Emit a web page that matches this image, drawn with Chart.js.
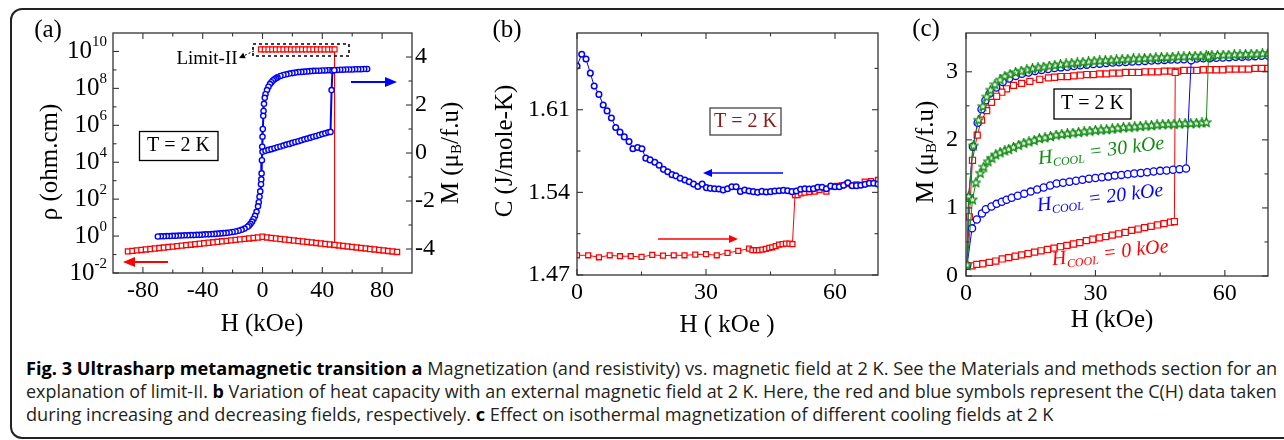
<!DOCTYPE html>
<html>
<head>
<meta charset="utf-8">
<script src="https://cdn.jsdelivr.net/npm/chart.js@4.4.0/dist/chart.umd.min.js"></script>
<style>
html, body { margin: 0; padding: 0; background: #fff; }
body { width: 1284px; height: 440px; position: relative; overflow: hidden; }
canvas { position: absolute; top: 0; }
#frame { position: absolute; left: 10px; top: 8px; width: 1300px; height: 431px; box-sizing: border-box;
  border: 2px solid #222; border-radius: 12px; }
#caption { position: absolute; left: 26px; top: 0; font-family: 'Open Sans', sans-serif; font-size: 18.5px; color: #231f20; }
#caption .ln { position: absolute; left: 0; white-space: nowrap; transform-origin: 0 0; line-height: 23px; }
#caption .ln span { display: inline-block; }
#caption b { color: #000; }
</style>
</head>
<body>
<div id="frame"></div>
<canvas id="ca" width="470" height="340" style="left:0"></canvas>
<canvas id="cb" width="460" height="340" style="left:430px"></canvas>
<canvas id="cc" width="394" height="340" style="left:890px"></canvas>
<div id="caption">
  <div class="ln" style="top:356px"><span><b>Fig. 3 Ultrasharp metamagnetic transition a</b> Magnetization (and resistivity) vs. magnetic field at 2 K. See the Materials and methods section for an</span></div>
  <div class="ln" style="top:379px"><span>explanation of limit-II. <b>b</b> Variation of heat capacity with an external magnetic field at 2 K. Here, the red and blue symbols represent the C(H) data taken</span></div>
  <div class="ln" style="top:402px"><span>during increasing and decreasing fields, respectively. <b>c</b> Effect on isothermal magnetization of different cooling fields at 2 K</span></div>
</div>
<script>
// ---------- panel (a): M and rho vs H ----------
const aXTicks = [-80, -40, 0, 40, 80];
const aXMinor = [-60, -20, 20, 60];
const aRhoExp = [-2, 0, 2, 4, 6, 8, 10];
const aRhoMinor = [1e-1, 1e1, 1e3, 1e5, 1e7, 1e9];
const aMTicks = [-4, -2, 0, 2, 4];
const aMMinor = [-3, -1, 1, 3];

// virgin M curve (first field increase), mu_B/f.u
const aMUp = [[0,0.05],[2,0.09],[4,0.13],[6,0.16],[8,0.2],[10,0.24],[12,0.27],[14,0.31],[16,0.35],[18,0.38],
  [20,0.42],[22,0.46],[24,0.49],[26,0.53],[28,0.57],[30,0.6],[32,0.64],[34,0.68],[36,0.71],[38,0.75],[40,0.79],
  [42,0.82],[44,0.86],[45.5,0.88],[46.2,2.62],[46.8,3.43],[48,3.45]];
// M on the way down from +70 to -70 kOe
const aMDown = [[70,3.5],[68,3.5],[66,3.49],[64,3.49],[62,3.49],[60,3.48],[58,3.48],[56,3.48],[54,3.47],[52,3.47],
  [50,3.46],[48,3.46],[46,3.45],[44,3.45],[42,3.44],[40,3.44],[38,3.43],[36,3.43],[34,3.42],[32,3.41],[30,3.4],
  [28,3.39],[26,3.38],[24,3.37],[22,3.35],[20,3.33],[18,3.31],[16,3.28],[14,3.25],[12,3.21],[10,3.15],[9,3.11],
  [8,3.07],[7,3.02],[6,2.95],[5,2.87],[4,2.76],[3,2.62],[2,2.45],[1.5,2.3],[1,2.05],[0.7,1.75],[0.5,1.55],[0.2,1.0],
  [0,0.68],[-0.2,0.26],[-0.4,-0.3],[-0.6,-0.85],[-0.8,-1.1],[-1,-1.3],[-1.5,-1.6],[-2,-1.82],[-2.5,-2.05],[-3,-2.22],
  [-4,-2.45],[-5,-2.62],[-6,-2.75],[-7,-2.86],[-8,-2.95],[-9,-3.02],[-10,-3.07],[-12,-3.15],[-14,-3.2],[-16,-3.24],
  [-18,-3.27],[-20,-3.29],[-22,-3.31],[-24,-3.33],[-26,-3.34],[-28,-3.35],[-30,-3.36],[-32,-3.37],[-34,-3.38],
  [-36,-3.39],[-38,-3.39],[-40,-3.4],[-42,-3.41],[-44,-3.41],[-46,-3.42],[-48,-3.42],[-50,-3.43],[-52,-3.43],
  [-54,-3.44],[-56,-3.44],[-58,-3.45],[-60,-3.45],[-62,-3.46],[-64,-3.46],[-66,-3.47],[-68,-3.47],[-70,-3.48]];
// resistivity: above limit-II until the transition, ohm.cm
const aRhoLimit = [[-1,1.3e10],[1.5,1.3e10],[4,1.3e10],[6.5,1.3e10],[9,1.3e10],[11.5,1.3e10],[14,1.3e10],
  [16.5,1.3e10],[19,1.3e10],[21.5,1.3e10],[24,1.3e10],[26.5,1.3e10],[29,1.3e10],[31.5,1.3e10],[34,1.3e10],
  [36.5,1.3e10],[39,1.3e10],[41.5,1.3e10],[44,1.3e10],[46.5,1.3e10],[48.2,1.3e10],[48.2,0.33]];
// resistivity in the metallic state
const aRhoLow = [[-90,0.148],[-87,0.157],[-84,0.167],[-81,0.177],[-78,0.188],[-75,0.2],[-72,0.212],[-69,0.225],
  [-66,0.239],[-63,0.254],[-60,0.269],[-57,0.286],[-54,0.303],[-51,0.322],[-48,0.342],[-45,0.363],[-42,0.385],
  [-39,0.409],[-36,0.434],[-33,0.461],[-30,0.49],[-27,0.52],[-24,0.552],[-21,0.586],[-18,0.622],[-15,0.661],
  [-12,0.702],[-9,0.745],[-6,0.791],[-3,0.839],[0,0.92],[3,0.84],[6,0.787],[9,0.74],[12,0.695],[15,0.653],
  [18,0.614],[21,0.577],[24,0.542],[27,0.509],[30,0.479],[33,0.45],[36,0.423],[39,0.397],[42,0.373],[45,0.351],
  [48,0.33],[51,0.31],[54,0.291],[57,0.274],[60,0.257],[63,0.242],[66,0.227],[69,0.213],[72,0.2],[75,0.188],
  [78,0.177],[81,0.166],[84,0.156],[87,0.147],[90,0.138]];

// ---------- panel (b): C vs H ----------
const bXTicks = [0, 30, 60];
const bXMinor = [15, 45];
const bYTicks = [1.47, 1.54, 1.61];
const bYMinor = [1.505, 1.575, 1.645];
const bUp = [[0,1.4867],[2.6,1.4867],[5.1,1.485],[7.6,1.4867],[10,1.4859],[12.5,1.4859],[15,1.4853],[17.5,1.487],
  [20,1.4864],[22.5,1.4867],[25,1.4867],[27.5,1.4873],[30,1.4876],[32.5,1.4867],[35,1.4887],[37.5,1.4904],
  [40,1.4924],[40.8,1.491],[41.6,1.491],[42.3,1.491],[43.1,1.4915],[43.9,1.4921],[44.7,1.493],[45.4,1.4935],
  [46.2,1.4944],[47,1.4958],[47.8,1.4961],[48.6,1.4966],[49.4,1.4966],[50.1,1.4961],[50.7,1.5377],[51.3,1.5377],
  [52.1,1.5391],[52.9,1.5397],[54,1.5403],[55.3,1.5406],[56.4,1.542],[58,1.5406],[59.3,1.5448],[60.4,1.5454],
  [61.6,1.546],[62.8,1.5471],[63.9,1.5462],[65,1.5468],[66.9,1.5491],[68.4,1.5496],[70,1.5505]];
const bDown = [[0,1.647],[1.1,1.657],[2.1,1.653],[3.1,1.641],[4,1.63],[5.1,1.623],[6.1,1.614],[7,1.609],[8,1.603],
  [9,1.595],[10,1.591],[11,1.587],[12.1,1.583],[13,1.577],[14.1,1.578],[15.1,1.577],[16,1.569],[17,1.5675],
  [18.1,1.5655],[19.1,1.563],[20.1,1.5595],[21.1,1.5575],[22.1,1.555],[23,1.554],[24,1.552],[25.1,1.5505],
  [26.1,1.549],[27.1,1.547],[28.1,1.545],[29.1,1.547],[30.1,1.544],[31,1.5434],[32,1.5431],[33,1.5428],[34,1.542],
  [35,1.5431],[36,1.5448],[37,1.5448],[38,1.5408],[39,1.542],[40,1.5411],[41,1.5406],[42,1.54],[43,1.5408],
  [44,1.5403],[45,1.5406],[46,1.5411],[47,1.5414],[48,1.5417],[49,1.5414],[50,1.5406],[51,1.5411],[52,1.5426],
  [53,1.5431],[54,1.5428],[55,1.5431],[56,1.5443],[57,1.5443],[58,1.5431],[59,1.5454],[60,1.5448],[61,1.5448],
  [62,1.546],[63,1.5482],[64,1.5457],[65,1.5457],[66,1.546],[67,1.5468],[68,1.5477],[69,1.5477],[70,1.547]];

// ---------- panel (c): M vs H for three cooling fields ----------
const cXTicks = [0, 30, 60];
const cXMinor = [15, 45];
const cYTicks = [0, 1, 2, 3];
const cYMinor = [0.5, 1.5, 2.5];
const cUp0 = [[0.23,0.15],[1.4,0.15],[2.5,0.17],[3.9,0.18],[5.4,0.2],[6.9,0.22],[8.4,0.25],[9.9,0.27],[11.4,0.29],
  [12.9,0.31],[14.4,0.33],[15.9,0.35],[17.4,0.37],[18.9,0.39],[20.4,0.41],[21.9,0.43],[23.4,0.45],[24.9,0.47],
  [26.4,0.49],[27.9,0.52],[29.4,0.54],[30.9,0.56],[32.4,0.58],[33.9,0.6],[35.4,0.62],[36.9,0.64],[38.4,0.67],
  [39.9,0.69],[41.4,0.71],[42.9,0.73],[44.4,0.75],[45.9,0.77],[47.4,0.79],[48.3,0.8],[48.5,2.99]];
const cDown0 = [[70,3.05],[68.5,3.05],[67,3.05],[65.5,3.04],[64,3.04],[62.5,3.04],[61,3.04],[59.5,3.03],[58,3.03],
  [56.5,3.03],[55,3.03],[53.5,3.02],[52,3.02],[50.5,3.02],[49,3.01],[47.5,3.01],[46,3.01],[44.5,3.0],[43,3.0],
  [41.5,3.0],[40,2.99],[38.5,2.99],[37,2.99],[35.5,2.98],[34,2.98],[32.5,2.97],[31,2.97],[29.5,2.96],[28,2.96],
  [26.5,2.95],[25,2.94],[23.5,2.93],[22,2.93],[20.5,2.92],[19.1,2.91],[17.1,2.89],[14.8,2.86],[12.9,2.83],[11,2.8],
  [9.4,2.75],[8.3,2.7],[7.1,2.64],[5.9,2.55],[4.8,2.43],[3.6,2.29],[2.6,2.07],[1.5,1.7],[0.77,0.87],[0.23,0.15]];
const cUp20 = [[0.23,0.15],[1.4,0.7],[2.5,0.83],[3.7,0.92],[4.6,0.98],[5.9,1.02],[7.1,1.06],[8.3,1.09],[9.4,1.12],
  [10.6,1.15],[12,1.18],[13.5,1.21],[15,1.24],[16.5,1.27],[18,1.3],[19.5,1.33],[21,1.36],[22.5,1.37],[24,1.385],
  [25.5,1.4],[27,1.415],[28.5,1.43],[30,1.44],[31.5,1.45],[33,1.46],[34.5,1.475],[36,1.485],[37.5,1.495],
  [39,1.505],[40.5,1.515],[42,1.525],[43.5,1.535],[45,1.545],[46.5,1.55],[48,1.56],[49.5,1.57],[51,1.58],[52.2,3.17]];
const cDown20 = [[70,3.24],[68.5,3.235],[67,3.23],[65.5,3.225],[64,3.22],[62.5,3.22],[61,3.215],[59.5,3.21],
  [58,3.205],[56.5,3.2],[55,3.2],[53.5,3.195],[52,3.19],[50.5,3.185],[49,3.18],[47.5,3.18],[46,3.175],[44.5,3.17],
  [43,3.165],[41.5,3.16],[40,3.155],[38.5,3.15],[37,3.145],[35.5,3.14],[34,3.135],[32.5,3.13],[31,3.12],
  [29.5,3.115],[28,3.105],[26.5,3.095],[25,3.085],[23.5,3.075],[22,3.065],[20.5,3.055],[19,3.04],[17.5,3.025],
  [16,3.01],[14.5,2.99],[13,2.97],[11.5,2.94],[10,2.9],[8.5,2.85],[7,2.77],[5.5,2.68],[4.5,2.58],[3.6,2.45],
  [2.7,2.25],[1.6,1.9],[0.6,1.15],[0.23,0.15]];
const cUp30 = [[0.23,0.16],[1.5,1.12],[2.3,1.37],[3.3,1.51],[4.1,1.6],[5.1,1.68],[6,1.73],[6.9,1.78],[7.9,1.81],
  [9,1.84],[9.9,1.86],[11,1.89],[12.2,1.92],[13.4,1.95],[14.6,1.97],[15.8,1.99],[17,2.02],[18.3,2.03],[19.6,2.05],
  [20.9,2.07],[22.2,2.08],[23.5,2.09],[24.8,2.1],[26.1,2.11],[27.4,2.12],[28.7,2.13],[30,2.14],[31.3,2.145],
  [32.6,2.15],[33.9,2.16],[35.2,2.17],[36.5,2.18],[37.8,2.185],[39.1,2.19],[40.4,2.2],[41.7,2.205],[43,2.21],
  [44.3,2.22],[45.6,2.225],[46.9,2.23],[48.2,2.23],[49.5,2.235],[50.8,2.24],[52.1,2.24],[53.4,2.245],[54.7,2.25],
  [55.7,2.255],[56.2,3.22]];
const cDown30 = [[70,3.27],[68.7,3.265],[67.4,3.26],[66.1,3.26],[64.8,3.255],[63.5,3.25],[62.2,3.25],[60.9,3.245],
  [59.6,3.245],[58.3,3.24],[57,3.24],[55.7,3.235],[54.4,3.23],[53.1,3.23],[51.8,3.225],[50.5,3.22],[49.2,3.22],
  [47.9,3.215],[46.6,3.21],[45.3,3.21],[44,3.205],[42.7,3.2],[41.4,3.195],[40.1,3.19],[38.8,3.19],[37.5,3.185],
  [36.2,3.18],[34.9,3.175],[33.6,3.17],[32.3,3.165],[31,3.16],[29.7,3.155],[28.4,3.145],[27.1,3.14],[25.8,3.13],
  [24.5,3.125],[23.2,3.115],[21.9,3.105],[20.6,3.095],[19.3,3.085],[18,3.07],[16.7,3.06],[15.4,3.045],[14.1,3.03],
  [12.8,3.01],[11.5,2.99],[10.2,2.96],[9,2.93],[7.9,2.88],[6.7,2.81],[5.7,2.73],[4.8,2.63],[3.9,2.49],[2.9,2.29],
  [1.7,1.91],[0.6,1.165],[0.23,0.16]];

const SERIF = "'Liberation Serif', 'Times New Roman', serif";
const BLUE = '#0000ff', RED = '#ff0000', GREEN = '#128a12';
Chart.defaults.font.family = SERIF;
Chart.defaults.color = '#000';

const xy = arr => arr.map(p => ({x: p[0], y: p[1]}));
const R = (t, size, o) => Object.assign({t: t, size: size}, o || {});

function fontStr(r) { return (r.italic ? 'italic ' : '') + r.size + 'px ' + SERIF; }

function drawRuns(ctx, it) {
  ctx.save();
  ctx.translate(it.x, it.y);
  if (it.rot) ctx.rotate(it.rot * Math.PI / 180);
  ctx.fillStyle = it.color || '#000';
  ctx.textBaseline = 'middle';
  ctx.textAlign = 'left';
  let total = 0;
  it.runs.forEach(r => { ctx.font = fontStr(r); total += ctx.measureText(r.t).width; });
  let cx = it.align === 'left' ? 0 : it.align === 'right' ? -total : -total / 2;
  it.runs.forEach(r => {
    ctx.font = fontStr(r);
    ctx.fillText(r.t, cx, r.dy || 0);
    cx += ctx.measureText(r.t).width;
  });
  ctx.restore();
}

function arrow(ctx, a) {
  const ang = Math.atan2(a.y2 - a.y1, a.x2 - a.x1);
  const bx = a.x2 - a.head * Math.cos(ang), by = a.y2 - a.head * Math.sin(ang);
  ctx.save();
  ctx.strokeStyle = a.color; ctx.fillStyle = a.color; ctx.lineWidth = a.w;
  if (a.dash) ctx.setLineDash(a.dash);
  ctx.beginPath(); ctx.moveTo(a.x1, a.y1); ctx.lineTo(bx, by); ctx.stroke();
  ctx.setLineDash([]);
  ctx.beginPath();
  ctx.moveTo(a.x2, a.y2);
  ctx.lineTo(bx + a.hw * Math.sin(ang), by - a.hw * Math.cos(ang));
  ctx.lineTo(bx - a.hw * Math.sin(ang), by + a.hw * Math.cos(ang));
  ctx.closePath(); ctx.fill();
  ctx.restore();
}

// frame, inward ticks, labels and annotations (page coordinates, shifted by ox)
function makeDecor(cfg) {
  return {
    id: 'decor',
    afterDraw(chart) {
      const ctx = chart.ctx, a = chart.chartArea;
      ctx.save();
      ctx.strokeStyle = '#333';
      ctx.lineWidth = 1.3;
      ctx.strokeRect(a.left, a.top, a.right - a.left, a.bottom - a.top);
      ctx.lineWidth = 1.1;
      cfg.ticks.forEach(s => {
        const sc = chart.scales[s.scale];
        [[s.major, 6], [s.minor || [], 3.5]].forEach(([vals, len]) => {
          vals.forEach(v => {
            const p = sc.getPixelForValue(v);
            ctx.beginPath();
            if (s.edge === 'bottom') { ctx.moveTo(p, a.bottom); ctx.lineTo(p, a.bottom - len); }
            if (s.edge === 'top') { ctx.moveTo(p, a.top); ctx.lineTo(p, a.top + len); }
            if (s.edge === 'left') { ctx.moveTo(a.left, p); ctx.lineTo(a.left + len, p); }
            if (s.edge === 'right') { ctx.moveTo(a.right, p); ctx.lineTo(a.right - len, p); }
            ctx.stroke();
          });
        });
      });
      if (cfg.log) {
        const sc = chart.scales[cfg.log.scale];
        cfg.log.exps.forEach(n => {
          drawRuns(ctx, {x: cfg.log.x - cfg.ox, y: sc.getPixelForValue(Math.pow(10, n)), align: 'right',
            runs: [R('10', 25), R(String(n), 15, {dy: -9})]});
        });
      }
      ctx.translate(-cfg.ox, 0);
      (cfg.boxes || []).forEach(b => {
        ctx.fillStyle = '#fff';
        ctx.fillRect(b.x, b.y, b.w, b.h);
        ctx.strokeStyle = b.color || '#000';
        ctx.lineWidth = 1.3;
        ctx.strokeRect(b.x, b.y, b.w, b.h);
      });
      (cfg.dashed || []).forEach(b => {
        ctx.save();
        ctx.setLineDash([3, 3]);
        ctx.strokeStyle = '#000';
        ctx.lineWidth = 1.6;
        ctx.strokeRect(b.x, b.y, b.w, b.h);
        ctx.restore();
      });
      (cfg.arrows || []).forEach(ar => arrow(ctx, ar));
      (cfg.texts || []).forEach(t => drawRuns(ctx, t));
      ctx.restore();
    }
  };
}

function linScale(pos, min, max, ticks, size, pad) {
  return {
    type: 'linear', position: pos, min: min, max: max,
    afterBuildTicks: s => { s.ticks = ticks.map(v => ({value: v})); },
    afterFit: s => { if (pos === 'bottom') s.height = size; else s.width = size; },
    ticks: {font: {family: SERIF, size: 24}, color: '#000', padding: pad, autoSkip: false, maxRotation: 0,
      callback: v => String(v)},
    grid: {display: false, drawTicks: false},
    border: {display: false}
  };
}

function line(data, color, axis, style, r, lw, pw) {
  return {
    data: xy(data), yAxisID: axis, showLine: true, borderColor: color, borderWidth: lw,
    pointStyle: style, pointRadius: r, pointBorderColor: color, pointBackgroundColor: '#fff',
    pointBorderWidth: pw, tension: 0
  };
}

function starPoint(color) {
  const c = document.createElement('canvas');
  c.width = 11; c.height = 11;
  const g = c.getContext('2d');
  g.beginPath();
  for (let i = 0; i < 10; i++) {
    const rr = i % 2 === 0 ? 4.8 : 2.1;
    const an = -Math.PI / 2 + i * Math.PI / 5;
    g.lineTo(5.5 + rr * Math.cos(an), 5.5 + rr * Math.sin(an));
  }
  g.closePath();
  g.fillStyle = '#e8f4e8';
  g.fill();
  g.strokeStyle = color;
  g.lineWidth = 1.3;
  g.stroke();
  return c;
}

const baseOpts = {
  responsive: false, animation: false, events: [],
  plugins: {legend: {display: false}, tooltip: {enabled: false}}
};

// ---------- chart (a) ----------
new Chart(document.getElementById('ca'), {
  type: 'scatter',
  data: {datasets: [
    line(aMUp, BLUE, 'yM', 'circle', 2.6, 2, 1.4),
    line(aMDown, BLUE, 'yM', 'circle', 2.6, 2, 1.4),
    line(aRhoLimit, RED, 'yR', 'rect', 3.5, 1, 1.2),
    line(aRhoLow, RED, 'yR', 'rect', 3.6, 1, 1.3)
  ]},
  options: Object.assign({}, baseOpts, {
    layout: {padding: {top: 33, left: 0, right: 0, bottom: 0}},
    scales: {
      x: linScale('bottom', -100, 100, aXTicks, 67, 3),
      yR: {type: 'logarithmic', position: 'left', min: 0.01, max: 1e11,
        afterFit: s => { s.width = 113; },
        ticks: {display: false}, grid: {display: false, drawTicks: false}, border: {display: false}},
      yM: linScale('right', -5, 5, aMTicks, 58, 3)
    }
  }),
  plugins: [makeDecor({
    ox: 0,
    ticks: [
      {scale: 'x', edge: 'bottom', major: aXTicks, minor: aXMinor},
      {scale: 'x', edge: 'top', major: aXTicks, minor: aXMinor},
      {scale: 'yR', edge: 'left', major: aRhoExp.map(n => Math.pow(10, n)), minor: aRhoMinor},
      {scale: 'yM', edge: 'right', major: aMTicks, minor: aMMinor}
    ],
    log: {scale: 'yR', exps: aRhoExp, x: 107},
    boxes: [{x: 139.5, y: 131.5, w: 78.5, h: 29}],
    dashed: [{x: 253, y: 44, w: 96, h: 12}],
    arrows: [
      {x1: 254, y1: 51, x2: 239, y2: 58, color: '#000', w: 1, head: 6, hw: 3, dash: [2, 2]},
      {x1: 351, y1: 82, x2: 397, y2: 82, color: BLUE, w: 2, head: 12, hw: 5},
      {x1: 168, y1: 262, x2: 123, y2: 262, color: RED, w: 2, head: 12, hw: 5}
    ],
    texts: [
      {x: 48, y: 30, runs: [R('(a)', 25)]},
      {x: 50, y: 162, rot: -90, runs: [R('ρ (ohm.cm)', 25)]},
      {x: 262, y: 324, runs: [R('H (kOe)', 25)]},
      {x: 451, y: 153, rot: -90, runs: [R('M (μ', 25), R('B', 15, {dy: 6}), R('/f.u)', 25)]},
      {x: 178.5, y: 146, runs: [R('T = 2 K', 20)]},
      {x: 207, y: 59, runs: [R('Limit-II', 19)]}
    ]
  })]
});

// ---------- chart (b) ----------
new Chart(document.getElementById('cb'), {
  type: 'scatter',
  data: {datasets: [
    line(bDown, BLUE, 'y', 'circle', 2.8, 1, 1.5),
    line(bUp, RED, 'y', 'rect', 3.5, 1, 1.3)
  ]},
  options: Object.assign({}, baseOpts, {
    layout: {padding: {top: 33, left: 0, right: 12, bottom: 0}},
    scales: {
      x: linScale('bottom', 0, 70, bXTicks, 65, 3),
      y: linScale('left', 1.47, 1.675, bYTicks, 147, 7)
    }
  }),
  plugins: [makeDecor({
    ox: 430,
    ticks: [
      {scale: 'x', edge: 'bottom', major: bXTicks, minor: bXMinor},
      {scale: 'x', edge: 'top', major: bXTicks, minor: bXMinor},
      {scale: 'y', edge: 'left', major: bYTicks, minor: bYMinor},
      {scale: 'y', edge: 'right', major: bYTicks, minor: bYMinor}
    ],
    boxes: [{x: 710, y: 108, w: 71, h: 27, color: '#444'}],
    arrows: [
      {x1: 658, y1: 239, x2: 738, y2: 239, color: RED, w: 1.5, head: 9, hw: 4},
      {x1: 783, y1: 173, x2: 703, y2: 173, color: BLUE, w: 1.5, head: 9, hw: 4}
    ],
    texts: [
      {x: 507, y: 30, runs: [R('(b)', 25)]},
      {x: 505, y: 151, rot: -90, runs: [R('C (J/mole-K)', 25)]},
      {x: 727, y: 325, runs: [R('H ( kOe )', 25)]},
      {x: 745.5, y: 121.5, color: '#8b1a1a', runs: [R('T = 2 K', 20)]}
    ]
  })]
});

// ---------- chart (c) ----------
const star = starPoint(GREEN);
new Chart(document.getElementById('cc'), {
  type: 'scatter',
  data: {datasets: [
    line(cUp30, GREEN, 'y', star, 4.5, 1, 1),
    line(cDown30, GREEN, 'y', star, 4.5, 1, 1),
    line(cUp20, BLUE, 'y', 'circle', 3.6, 1, 1.3),
    line(cDown20, BLUE, 'y', 'circle', 3.6, 1, 1.3),
    line(cUp0, RED, 'y', 'rect', 4.3, 1, 1.2),
    line(cDown0, RED, 'y', 'rect', 4.3, 1, 1.2)
  ]},
  options: Object.assign({}, baseOpts, {
    layout: {padding: {top: 33, left: 0, right: 16, bottom: 0}},
    scales: {
      x: linScale('bottom', 0, 70, cXTicks, 64, 3),
      y: linScale('left', 0, 3.57, cYTicks, 76, 8)
    }
  }),
  plugins: [makeDecor({
    ox: 890,
    ticks: [
      {scale: 'x', edge: 'bottom', major: cXTicks, minor: cXMinor},
      {scale: 'x', edge: 'top', major: cXTicks, minor: cXMinor},
      {scale: 'y', edge: 'left', major: cYTicks, minor: cYMinor},
      {scale: 'y', edge: 'right', major: cYTicks, minor: cYMinor}
    ],
    boxes: [{x: 1054, y: 89, w: 77, h: 30}],
    texts: [
      {x: 926, y: 29, runs: [R('(c)', 25)]},
      {x: 926, y: 152, rot: -90, runs: [R('M (μ', 25), R('B', 15, {dy: 6}), R('/f.u)', 25)]},
      {x: 1112, y: 320, runs: [R('H (kOe)', 25)]},
      {x: 1092.5, y: 104, runs: [R('T = 2 K', 20)]},
      {x: 1038, y: 159, rot: -7, align: 'left', color: GREEN,
        runs: [R('H', 20, {italic: true}), R('COOL', 12, {italic: true, dy: 6}), R(' = 30 kOe', 20, {italic: true})]},
      {x: 1037, y: 206, rot: -7, align: 'left', color: BLUE,
        runs: [R('H', 20, {italic: true}), R('COOL', 12, {italic: true, dy: 6}), R(' = 20 kOe', 20, {italic: true})]},
      {x: 1052, y: 260, rot: -6.5, align: 'left', color: RED,
        runs: [R('H', 20, {italic: true}), R('COOL', 12, {italic: true, dy: 6}), R(' = 0 kOe', 20, {italic: true})]}
    ]
  })]
});

// ---------- caption: fit each line to the column width ----------
function fitCaption() {
  const lines = document.querySelectorAll('#caption .ln');
  const target = [1251, 1251, 0];
  let k0 = 1;
  lines.forEach((ln, i) => {
    const w = ln.firstElementChild.offsetWidth;   // layout width, unaffected by transforms
    const k = target[i] ? target[i] / w : k0;
    if (i === 0) k0 = k;
    ln.style.transform = 'scaleX(' + k + ')';
  });
}
fitCaption();
if (document.fonts && document.fonts.ready) document.fonts.ready.then(fitCaption);
</script>
</body>
</html>
